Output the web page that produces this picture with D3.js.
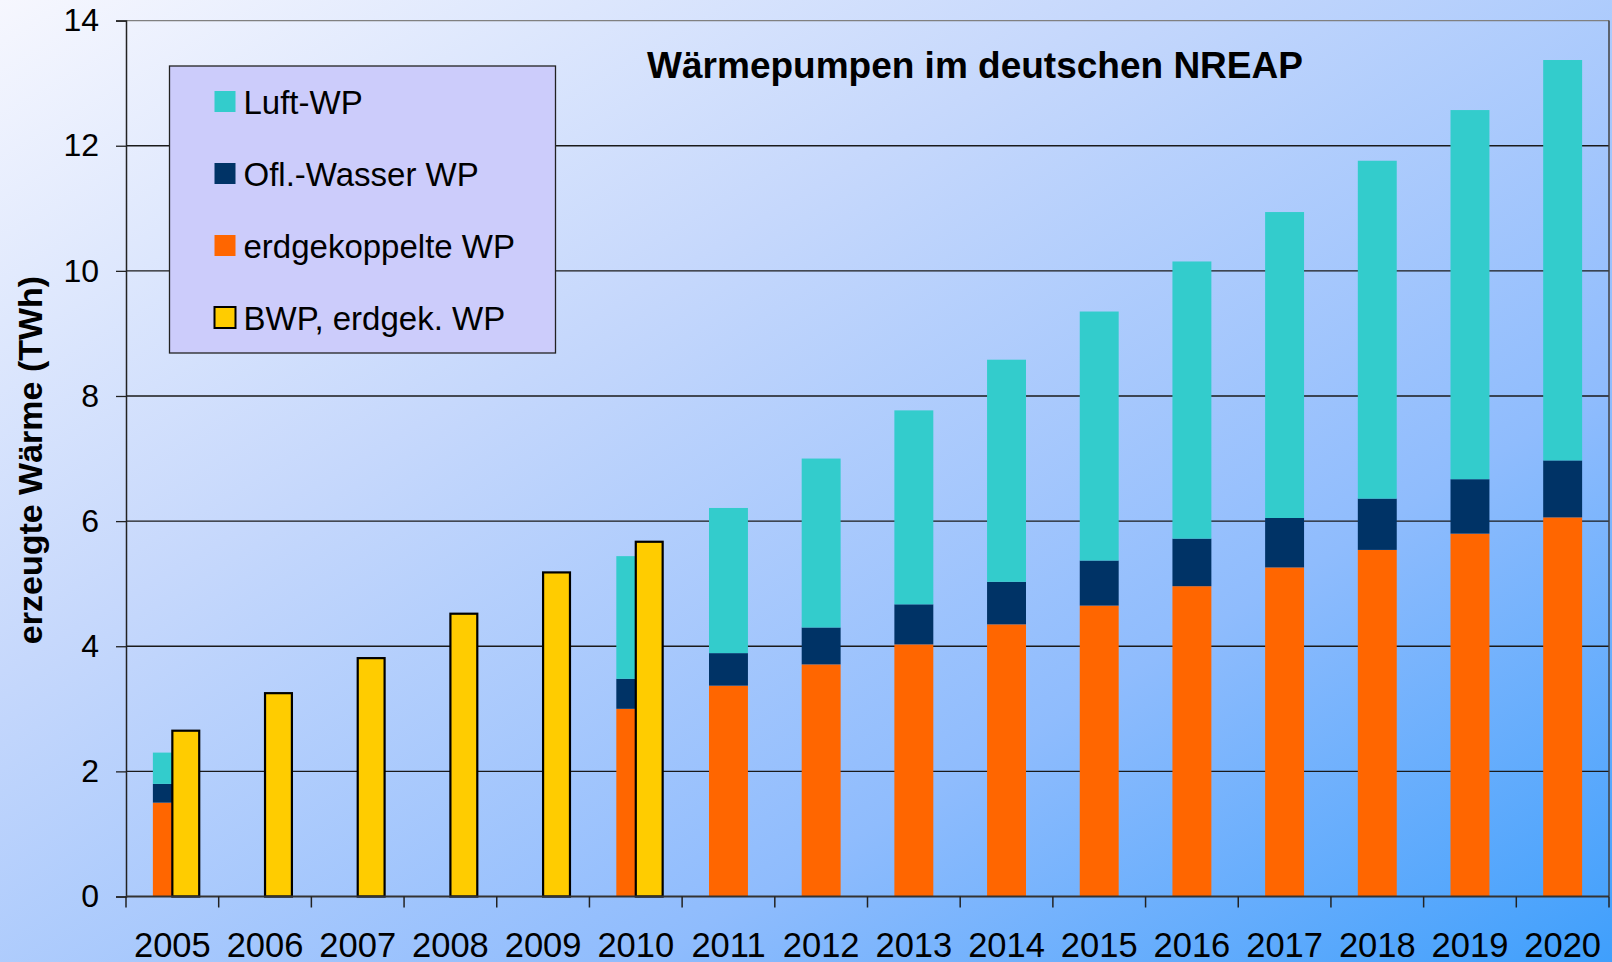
<!DOCTYPE html>
<html>
<head>
<meta charset="utf-8">
<script src="https://cdn.jsdelivr.net/npm/d3@7"></script>
<style>
  html, body { margin: 0; padding: 0; overflow: hidden; }
  svg { display: block; font-family: "Liberation Sans", Arial, sans-serif; }
</style>
</head>
<body>
<svg id="chart" width="1612" height="962"></svg>
<script>
// data (TWh)
var years = ["2005", "2006", "2007", "2008", "2009", "2010", "2011", "2012", "2013", "2014", "2015", "2016", "2017", "2018", "2019", "2020"];
var erdgekoppelt = [1.5, 0, 0, 0, 0, 3.0, 3.37, 3.71, 4.03, 4.35, 4.65, 4.96, 5.26, 5.54, 5.80, 6.06];
var oflWasser = [0.3, 0, 0, 0, 0, 0.48, 0.52, 0.59, 0.64, 0.68, 0.72, 0.76, 0.79, 0.82, 0.87, 0.91];
var luft = [0.5, 0, 0, 0, 0, 1.96, 2.32, 2.70, 3.10, 3.55, 3.98, 4.43, 4.89, 5.40, 5.90, 6.40];
var bwp = [2.65, 3.25, 3.81, 4.52, 5.18, 5.67, null, null, null, null, null, null, null, null, null, null];
var yTicks = [0, 2, 4, 6, 8, 10, 12, 14];
var legendNames = ["Luft-WP", "Ofl.-Wasser WP", "erdgekoppelte WP", "BWP, erdgek. WP"];
var colors = { luft: "#33CCCC", wasser: "#003366", erd: "#FF6600", bwp: "#FFCC00" };

var W = 1612, H = 962;
var margin = { left: 126, right: 1609, top: 20.6, bottom: 896.5 };

var svg = d3.select("#chart");

// background gradient
var defs = svg.append("defs");
var grad = defs.append("linearGradient")
    .attr("id", "bg")
    .attr("x1", "0").attr("y1", "0")
    .attr("x2", "1").attr("y2", "1");
grad.append("stop").attr("offset", "0").attr("stop-color", "#f6f7fe");
grad.append("stop").attr("offset", "0.35").attr("stop-color", "#c6d8fc");
grad.append("stop").attr("offset", "0.7").attr("stop-color", "#8fbcfd");
grad.append("stop").attr("offset", "1").attr("stop-color", "#3f9ffc");

svg.append("rect")
    .attr("width", W).attr("height", H)
    .attr("fill", "url(#bg)");

var x = d3.scaleBand()
    .domain(years)
    .range([margin.left, margin.right])
    .padding(0);

var y = d3.scaleLinear()
    .domain([0, 14])
    .range([margin.bottom, margin.top]);

var bw = x.bandwidth();

// gridlines
svg.append("g")
    .selectAll("line")
    .data(yTicks.slice(1))
    .enter()
    .append("line")
    .attr("x1", margin.left).attr("x2", margin.right)
    .attr("y1", function (d) { return y(d) })
    .attr("y2", function (d) { return y(d) })
    .attr("stroke", function (d) { return d == 14 ? "#808080" : "#1a1a1a" })
    .attr("stroke-width", 1.3);

// right border of plot area
svg.append("line")
    .attr("x1", margin.right).attr("x2", margin.right)
    .attr("y1", margin.top).attr("y2", margin.bottom)
    .attr("stroke", "#404040")
    .attr("stroke-width", 1.5);

// stacked bars
var stackData = years.map(function (yr, i) {
    return { year: yr, erd: erdgekoppelt[i], wasser: oflWasser[i], luft: luft[i] };
});
var series = d3.stack().keys(["erd", "wasser", "luft"])(stackData);

var sw = bw * 0.42;
svg.append("g")
    .selectAll("g")
    .data(series)
    .enter()
    .append("g")
    .attr("fill", function (d) { return colors[d.key] })
    .selectAll("rect")
    .data(function (d) { return d.filter(function (p) { return p[1] - p[0] > 0 }) })
    .enter()
    .append("rect")
    .attr("x", function (d) { return x(d.data.year) + bw / 2 - sw / 2 })
    .attr("width", sw)
    .attr("y", function (d) { return y(d[1]) })
    .attr("height", function (d) { return y(d[0]) - y(d[1]) });

// BWP bars (drawn over the right half of the stack)
var yw = bw * 0.29;
svg.append("g")
    .selectAll("rect")
    .data(years.map(function (yr, i) { return { year: yr, value: bwp[i] } })
        .filter(function (d) { return d.value != null }))
    .enter()
    .append("rect")
    .attr("x", function (d) { return x(d.year) + bw / 2 })
    .attr("width", yw)
    .attr("y", function (d) { return y(d.value) })
    .attr("height", function (d) { return margin.bottom - y(d.value) })
    .attr("fill", colors.bwp)
    .attr("stroke", "#000")
    .attr("stroke-width", 2.2);

// y axis
var yAxis = svg.append("g")
    .attr("transform", "translate(" + margin.left + ",0)")
    .call(d3.axisLeft(y).tickValues(yTicks).tickSize(10).tickPadding(17));
yAxis.select(".domain").attr("stroke", "#222").attr("stroke-width", 1.5);
yAxis.selectAll(".tick line").attr("stroke", "#222").attr("stroke-width", 1.3);
yAxis.selectAll("text")
    .style("font-size", "32px")
    .style("font-family", "Liberation Sans, Arial, sans-serif")
    .attr("fill", "#000");

// x axis
var xAxis = svg.append("g")
    .attr("transform", "translate(0," + margin.bottom + ")")
    .call(d3.axisBottom(x).tickSize(0));
xAxis.select(".domain").remove();
xAxis.selectAll("text")
    .attr("y", 60)
    .attr("dy", 0)
    .style("font-size", "34.5px")
    .style("font-family", "Liberation Sans, Arial, sans-serif")
    .attr("fill", "#000");

svg.append("line")
    .attr("x1", margin.left).attr("x2", margin.right)
    .attr("y1", margin.bottom).attr("y2", margin.bottom)
    .attr("stroke", "#333")
    .attr("stroke-width", 2);

svg.append("g")
    .selectAll("line")
    .data(years.map(function (d) { return x(d) }).concat([margin.right]))
    .enter()
    .append("line")
    .attr("x1", function (d) { return d }).attr("x2", function (d) { return d })
    .attr("y1", margin.bottom).attr("y2", margin.bottom + 11)
    .attr("stroke", "#222")
    .attr("stroke-width", 1.5);

// title
svg.append("text")
    .attr("x", 975)
    .attr("y", 78)
    .attr("text-anchor", "middle")
    .style("font-size", "37px")
    .style("font-weight", "bold")
    .text("Wärmepumpen im deutschen NREAP");

// y axis title
svg.append("text")
    .attr("transform", "translate(42,460) rotate(-90)")
    .attr("text-anchor", "middle")
    .style("font-size", "34px")
    .style("font-weight", "bold")
    .text("erzeugte Wärme (TWh)");

// legend
var legend = svg.append("g").attr("transform", "translate(169.5,66)");
legend.append("rect")
    .attr("width", 386)
    .attr("height", 287)
    .attr("fill", "#ccccfb")
    .attr("stroke", "#222")
    .attr("stroke-width", 1.3);

var legendColors = [colors.luft, colors.wasser, colors.erd, colors.bwp];
var items = legend.selectAll(".item")
    .data(legendNames)
    .enter()
    .append("g")
    .attr("class", "item")
    .attr("transform", function (d, i) { return "translate(0," + (36 + i * 72) + ")" });

items.append("rect")
    .attr("x", 45)
    .attr("y", -11)
    .attr("width", 21)
    .attr("height", 21)
    .attr("fill", function (d, i) { return legendColors[i] })
    .attr("stroke", function (d, i) { return i == 3 ? "#000" : "none" })
    .attr("stroke-width", 2);

items.append("text")
    .attr("x", 74)
    .attr("y", 0)
    .attr("dy", "0.36em")
    .style("font-size", "33px")
    .text(function (d) { return d });
</script>
</body>
</html>
